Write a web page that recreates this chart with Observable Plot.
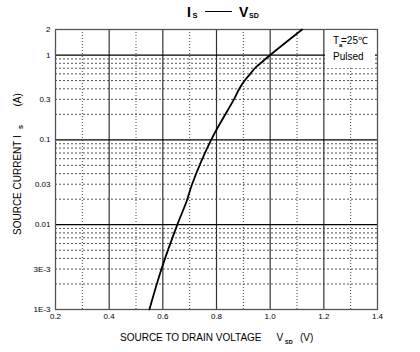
<!DOCTYPE html>
<html><head><meta charset="utf-8">
<script src="https://cdn.jsdelivr.net/npm/d3@7"></script>
<script src="https://cdn.jsdelivr.net/npm/@observablehq/plot@0.6"></script>
<style>
body{margin:0;background:#fff;}
#wrap{position:relative;width:420px;height:352px;font-family:"Liberation Sans",Arial,sans-serif;color:#000;overflow:hidden;}
#wrap svg{position:absolute;left:0;top:0;}
.t{position:absolute;white-space:nowrap;line-height:1;}
</style></head><body><div id="wrap"></div>
<script>
// Curve data (V_SD in volts, I_S in amperes)
const vsd = [0.550, 0.595, 0.654, 0.689, 0.709, 0.780, 0.865, 0.885, 0.905, 0.926, 0.946, 0.964, 1.000, 1.119];
const is  = [0.001, 0.003, 0.010, 0.019, 0.030, 0.100, 0.300, 0.400, 0.500, 0.600, 0.715, 0.800, 1.000, 2.000];

// Axis ticks and labels
const xTicks = [0.2, 0.4, 0.6, 0.8, 1.0, 1.2, 1.4];
const xMajorGrid = [0.4, 0.6, 0.8, 1.0, 1.2];
const xMinorGrid = [0.3, 0.5, 0.7, 0.9, 1.1, 1.3];
const yTicks = [0.001, 0.003, 0.01, 0.03, 0.1, 0.3, 1, 2];
const yTickLabels = ["1E-3", "3E-3", "0.01", "0.03", "0.1", "0.3", "1", "2"];
const yMajorGrid = [0.01, 0.1, 1];
const decades = [0.001, 0.01, 0.1];
const multiples = [2, 3, 4, 5, 6, 7, 8, 9];

const yMinorGrid = decades.flatMap(d => multiples.map(m => +(d * m).toPrecision(3)));
const yLabels = yTicks.map((v, i) => ({v, label: yTickLabels[i]}));
const curve = vsd.map((v, i) => ({v, i: is[i]}));

const chart = Plot.plot({
  width: 420,
  height: 352,
  marginLeft: 55,
  marginRight: 43,
  marginTop: 29,
  marginBottom: 43,
  style: {fontFamily: "Liberation Sans, Arial, sans-serif", fontSize: "8px", background: "transparent", color: "#000"},
  x: {domain: [0.2, 1.4], axis: null},
  y: {type: "log", domain: [0.001, 2], axis: null},
  marks: [
    Plot.ruleY(yMinorGrid, {stroke: "#555", strokeWidth: 1, strokeDasharray: "2,2"}),
    Plot.ruleX(xMinorGrid, {stroke: "#444", strokeWidth: 1, strokeDasharray: "1,2"}),
    Plot.ruleX(xMajorGrid, {stroke: "#333", strokeWidth: 1.2}),
    Plot.ruleY(yMajorGrid, {stroke: "#000", strokeWidth: 1.2}),
    Plot.frame({stroke: "#555", strokeWidth: 1.3}),
    Plot.axisX(xTicks, {tickFormat: d => d.toFixed(1), tickSize: 0, tickPadding: 4, label: null, fontSize: 8}),
    Plot.text(yLabels, {y: "v", text: "label", frameAnchor: "left", dx: -5, textAnchor: "end", fontSize: 8, fill: "#000"}),
    Plot.line(curve, {x: "v", y: "i", stroke: "#000", strokeWidth: 1.8, curve: "catmull-rom"})
  ]
});

const wrap = document.getElementById("wrap");
wrap.appendChild(chart);

wrap.insertAdjacentHTML("beforeend", `
  <div class="t" style="left:187px;top:5px;font-weight:bold;font-size:14px;">I</div>
  <div class="t" style="left:192.5px;top:12px;font-weight:bold;font-size:7.5px;">S</div>
  <div style="position:absolute;left:205px;top:10.5px;width:27px;height:1.8px;background:#000;"></div>
  <div class="t" style="left:239px;top:5px;font-weight:bold;font-size:14px;">V</div>
  <div class="t" style="left:249px;top:12px;font-weight:bold;font-size:7px;">SD</div>

  <div style="position:absolute;left:325px;top:30px;width:50px;height:38px;background:#fff;"></div>
  <div class="t" style="left:333px;top:36px;font-size:10px;">T</div>
  <div class="t" style="left:339px;top:42px;font-size:6px;font-weight:bold;">a</div>
  <div class="t" style="left:341px;top:36px;font-size:10px;">=25℃</div>
  <div class="t" style="left:333px;top:51.5px;font-size:10px;">Pulsed</div>

  <div class="t" style="left:120px;top:333px;font-size:10px;">SOURCE TO DRAIN VOLTAGE</div>
  <div class="t" style="left:276.5px;top:333px;font-size:10px;">V</div>
  <div class="t" style="left:285px;top:339.5px;font-size:5.5px;font-weight:bold;">SD</div>
  <div class="t" style="left:300px;top:333px;font-size:10px;">(V)</div>

  <div style="position:absolute;left:13.2px;top:235px;width:150px;height:10px;transform-origin:0 0;transform:rotate(-90deg);">
    <div class="t" style="left:0;top:0;font-size:10px;">SOURCE CURRENT</div>
    <div class="t" style="left:97px;top:0;font-size:10px;">I</div>
    <div class="t" style="left:106px;top:5px;font-size:6px;font-weight:bold;">S</div>
    <div class="t" style="left:128.5px;top:0;font-size:10px;">(A)</div>
  </div>
`);
</script>
</body></html>
